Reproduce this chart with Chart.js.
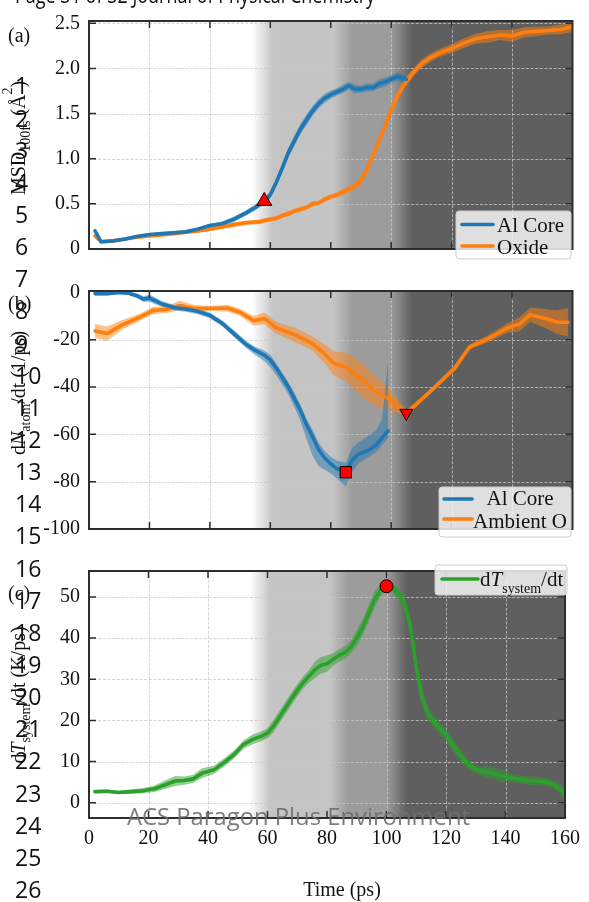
<!DOCTYPE html>
<html>
<head>
<meta charset="utf-8">
<script src="https://cdn.jsdelivr.net/npm/chart.js@4.4.0/dist/chart.umd.min.js"></script>
<style>
  html, body { margin: 0; padding: 0; background: #fff; }
  #page { position: relative; width: 589px; height: 902px; overflow: hidden; background: #fff; }
  #page canvas { position: absolute; left: 0; }
  #overlay { position: absolute; left: 0; top: 0; pointer-events: none; }
</style>
</head>
<body>
<div id="page">
  <canvas id="panelA" width="589" height="270" style="top:0px"></canvas>
  <canvas id="panelB" width="589" height="280" style="top:270px"></canvas>
  <canvas id="panelC" width="589" height="352" style="top:550px"></canvas>
  <svg id="overlay" width="589" height="902" xmlns="http://www.w3.org/2000/svg"></svg>
</div>
<script>
// ---------- axis ticks ----------
const timeTicks = [0, 20, 40, 60, 80, 100, 120, 140, 160];
const msdTicks  = [0, 0.5, 1, 1.5, 2, 2.5];
const rateTicks = [0, -20, -40, -60, -80, -100];
const heatTicks = [0, 10, 20, 30, 40, 50];

// ---------- (a) mean squared displacement ----------
const msdCoreTime   = [2,4,8,12,16,20,24,28,32,36,40,44,48,52,55,58,60,62,64,66,68,70,72,74,76,78,80,82,84,86,88,90,92,94,96,98,100,102,104,105];
const msdCore       = [0.20,0.08,0.09,0.11,0.14,0.16,0.17,0.18,0.19,0.22,0.26,0.28,0.33,0.40,0.46,0.53,0.60,0.74,0.90,1.07,1.20,1.33,1.43,1.53,1.61,1.67,1.71,1.74,1.77,1.81,1.77,1.77,1.79,1.79,1.83,1.85,1.88,1.91,1.89,1.88];
const msdCoreSpread = [0.02,0.01,0.01,0.015,0.015,0.015,0.015,0.02,0.02,0.02,0.02,0.025,0.03,0.03,0.035,0.035,0.04,0.045,0.05,0.055,0.06,0.055,0.06,0.055,0.05,0.05,0.045,0.04,0.045,0.04,0.045,0.04,0.045,0.04,0.05,0.05,0.045,0.045,0.04,0.04];

const msdOxideTime   = [2,4,8,12,16,20,24,28,32,36,40,44,48,52,56,60,62,64,66,68,70,72,74,76,78,80,82,84,86,88,90,92,94,96,98,100,102,104,106,108,110,113,116,120,124,128,132,136,140,144,148,152,156,160];
const msdOxide       = [0.145,0.08,0.09,0.11,0.13,0.145,0.155,0.17,0.185,0.20,0.22,0.245,0.27,0.29,0.30,0.33,0.34,0.37,0.39,0.42,0.44,0.46,0.50,0.51,0.55,0.58,0.60,0.63,0.66,0.70,0.76,0.88,1.04,1.20,1.37,1.54,1.69,1.81,1.90,1.98,2.05,2.12,2.17,2.22,2.28,2.33,2.35,2.37,2.36,2.40,2.41,2.42,2.43,2.46];
const msdOxideSpread = [0.02,0.015,0.015,0.015,0.015,0.015,0.015,0.02,0.02,0.02,0.02,0.02,0.025,0.025,0.025,0.025,0.03,0.025,0.03,0.025,0.03,0.025,0.03,0.025,0.03,0.025,0.03,0.035,0.035,0.035,0.045,0.045,0.055,0.055,0.055,0.055,0.055,0.05,0.05,0.045,0.045,0.045,0.045,0.05,0.055,0.055,0.065,0.055,0.065,0.055,0.055,0.045,0.055,0.055];

// ---------- (b) atom count rates ----------
const rateCoreTime = [2,6,10,13,16,18,20,22,24,28,32,36,40,44,48,52,55,58,60,62,64,66,68,70,72,74,76,78,80,82,85,87,89,92,95,97,99];
const rateCore     = [-0.5,-0.5,0,-0.3,-1.5,-2.8,-2.4,-3.6,-4.8,-6.4,-7,-8,-9.7,-13,-17.5,-22,-24.5,-26.5,-28.5,-32,-36,-40,-45,-50,-56,-61,-66.5,-70,-72.5,-74.5,-76,-71,-68.5,-67,-64.5,-61.5,-58.5];
const rateCoreUp   = [0.8,0.8,0.8,0.8,1,1.2,1.5,1.5,1.2,1.2,1.2,1.2,1.2,1.2,1.5,1.5,1.5,2,2,2,2,2,2.5,2.5,2.5,3,3,3,3,3.5,4,5,5,6,6,8,30];
const rateCoreDown = [0.8,0.8,0.8,0.8,1,1.2,1.5,1.5,1.2,1.2,1.2,1.2,1.2,1.2,1.5,1.5,2,2.5,3,3,3,3,3.5,4.5,6,8,7,5,4,4,6,5,4,3,3,3,3];

const rateOxyTime   = [2,6,11,17,21,26,30,35,40,46,50,54.5,58,62,68,74,78,81,85,88.5,92,95,99,102,105,110,115,121,126,132,138.5,142.5,146,151,155,158.5];
const rateOxy       = [-16.3,-17.4,-13.7,-10.4,-7.7,-7.1,-5.5,-6.8,-6.7,-6.7,-8.4,-12,-11,-15,-17.8,-21.6,-26,-30,-31.5,-35,-38.7,-42,-44.7,-48,-51,-45.3,-39.4,-32,-23,-19.6,-15,-13.4,-9.4,-11,-12.6,-12.6];
const rateOxySpread = [3,3,2,1.5,1.5,1.5,2,1.5,1,1.5,1.5,2,2.5,2.5,3,3,4,5,6,7,7,6,5,3,1.5,1,1,1,1,1.5,2,3,3,4,5,6];

// ---------- (c) system heating rate ----------
const heatTime   = [2,6,10,14,18,22,25,29,32,35,38,42,46,49,52,55,58,60,62,64,66,68,70,72,74,76,78,80,82,84,86,88,90,92,94,96,98,100,102,104,106,108,110,112,114,116,118,120,122,124,126,128,130,132,134,136,138,140,142,144,146,148,150,152,154,156,158,160];
const heatRate   = [2.7,2.8,2.5,2.7,2.9,3.4,4.2,5.3,5.4,5.8,7.2,8.0,10.1,11.9,14.2,15.4,16.2,16.9,18.6,20.8,23.0,25.2,27.3,29.2,30.8,32.3,33.4,33.8,34.8,35.8,36.5,37.8,40.0,42.6,46.0,49.4,51.6,52.6,52.2,50.8,48.5,43.0,33.0,25.5,21.5,19.6,18.0,16.6,14.3,12.3,10.5,9.0,8.2,7.6,7.4,7.2,6.6,6.4,6.0,5.8,5.5,5.4,5.3,5.2,5.0,4.5,3.5,2.0];
const heatSpread = [0.4,0.4,0.4,0.5,0.6,0.8,1,1.2,1,1,1.2,1,1,1,1,1.2,1.2,1.2,1.5,1.5,1.5,1.5,1.5,1.5,1.5,2,2,2,1.5,1.5,1.5,1.5,2,2,2,2,1.5,1,1,1.5,2,2.5,2.5,2,1.5,1.5,1.5,1.5,1.5,1.5,1.5,1,1,1,1.5,1.5,1.5,1.5,1,1,1,1,1,1,1,1,1,2];

// ---------- event times (ps) ----------
const coreMeltTime  = 58;   // onset of core mobility
const coreMinTime   = 85;   // fastest core consumption
const oxyMinTime    = 105;  // fastest oxygen uptake
const heatPeakTime  = 100;  // peak heating rate

// ---------- reaction-stage shading ----------
const stageTimes  = [0, 54, 61, 81, 87, 100, 107, 160];
const stageShades = ['#ffffff', '#ffffff', '#c4c4c4', '#c4c4c4', '#9c9c9c', '#9c9c9c', '#5f5f5f', '#5f5f5f'];

// ---------- style ----------
const SERIF = '"Liberation Serif","Times New Roman",Times,serif';
const INK = '#111111';
const SPINE = '#2e2e2e';
const BLUE = '#1f77b4', ORANGE = '#ff7f0e', GREEN = '#2ca02c';
const BLUE_BAND = 'rgba(31,119,180,0.5)', ORANGE_BAND = 'rgba(255,127,14,0.5)', GREEN_BAND = 'rgba(44,160,44,0.5)';

function valueAt(times, vals, t) { return vals[times.indexOf(t)]; }

function seriesDatasets(times, vals, up, down, color, band) {
  return {
    line: {
      data: times.map((t, i) => ({ x: t, y: vals[i] })),
      borderColor: color, borderWidth: 3.6, pointRadius: 0, fill: false,
      borderJoinStyle: 'round', borderCapStyle: 'round', tension: 0
    },
    hi: {
      data: times.map((t, i) => ({ x: t, y: vals[i] + up[i] })),
      borderWidth: 0, borderColor: 'rgba(0,0,0,0)', pointRadius: 0,
      fill: '+1', backgroundColor: band, tension: 0
    },
    lo: {
      data: times.map((t, i) => ({ x: t, y: vals[i] - down[i] })),
      borderWidth: 0, borderColor: 'rgba(0,0,0,0)', pointRadius: 0, fill: false, tension: 0
    }
  };
}

function markerDataset(t, v, style, radius, rotation) {
  return {
    data: [{ x: t, y: v }], showLine: false,
    pointStyle: style, pointRadius: radius, pointRotation: rotation || 0,
    pointBackgroundColor: '#ff0000', pointBorderColor: '#000000', pointBorderWidth: 1,
    backgroundColor: '#ff0000', borderColor: '#000000'
  };
}

// draws a run of text pieces (plain, italic, sub/superscript), optionally rotated
function richText(ctx, parts, x, y, align, rotated) {
  ctx.save();
  ctx.translate(x, y);
  if (rotated) ctx.rotate(-Math.PI / 2);
  ctx.textAlign = 'left';
  ctx.textBaseline = 'alphabetic';
  ctx.fillStyle = INK;
  let total = 0;
  parts.forEach(p => { ctx.font = p.font; p.w = ctx.measureText(p.text).width; total += p.w; });
  let cx = align === 'center' ? -total / 2 : 0;
  parts.forEach(p => { ctx.font = p.font; ctx.fillText(p.text, cx, p.dy || 0); cx += p.w; });
  ctx.restore();
}

function f(size, italic) { return (italic ? 'italic ' : '') + size + 'px ' + SERIF; }

function drawLegend(ctx, box, rows) {
  ctx.save();
  const r = 3;
  ctx.beginPath();
  ctx.moveTo(box.x + r, box.y);
  ctx.arcTo(box.x + box.w, box.y, box.x + box.w, box.y + box.h, r);
  ctx.arcTo(box.x + box.w, box.y + box.h, box.x, box.y + box.h, r);
  ctx.arcTo(box.x, box.y + box.h, box.x, box.y, r);
  ctx.arcTo(box.x, box.y, box.x + box.w, box.y, r);
  ctx.closePath();
  ctx.fillStyle = 'rgba(255,255,255,0.8)';
  ctx.fill();
  ctx.strokeStyle = '#cccccc';
  ctx.lineWidth = 1;
  ctx.stroke();
  rows.forEach(row => {
    ctx.beginPath();
    ctx.moveTo(row.x1, row.ly);
    ctx.lineTo(row.x2, row.ly);
    ctx.strokeStyle = row.color;
    ctx.lineWidth = 3.6;
    ctx.lineCap = 'round';
    ctx.stroke();
    richText(ctx, row.parts, row.tx, row.ty, row.align || 'left', false);
  });
  ctx.restore();
}

function decorPlugin(cfg) {
  return {
    id: 'panelDecor',
    beforeDatasetsDraw(chart) {
      const { ctx, chartArea: a, scales: { x, y } } = chart;
      ctx.save();
      const x0 = x.getPixelForValue(0), x1 = x.getPixelForValue(160);
      const g = ctx.createLinearGradient(x0, 0, x1, 0);
      stageTimes.forEach((t, i) => g.addColorStop(t / 160, stageShades[i]));
      ctx.fillStyle = g;
      ctx.fillRect(a.left, a.top, a.right - a.left, a.bottom - a.top);
      ctx.setLineDash([3, 1.6]);
      ctx.lineWidth = 0.9;
      ctx.strokeStyle = 'rgba(200,200,200,0.85)';
      timeTicks.forEach(v => {
        const px = Math.round(x.getPixelForValue(v)) + 0.5;
        if (px > a.left + 2 && px < a.right - 2) {
          ctx.beginPath(); ctx.moveTo(px, a.top); ctx.lineTo(px, a.bottom); ctx.stroke();
        }
      });
      cfg.yTicks.forEach(v => {
        const py = Math.round(y.getPixelForValue(v)) + 0.5;
        if (py > a.top + 2 && py < a.bottom - 2) {
          ctx.beginPath(); ctx.moveTo(a.left, py); ctx.lineTo(a.right, py); ctx.stroke();
        }
      });
      ctx.restore();
    },
    afterDraw(chart) {
      const { ctx, chartArea: a, scales: { x, y } } = chart;
      ctx.save();
      // inward tick marks on all four sides
      ctx.strokeStyle = SPINE;
      ctx.lineWidth = 1.5;
      const tl = 7;
      timeTicks.forEach(v => {
        const px = x.getPixelForValue(v);
        if (px > a.left + 2 && px < a.right - 2) {
          ctx.beginPath();
          ctx.moveTo(px, a.top); ctx.lineTo(px, a.top + tl);
          ctx.moveTo(px, a.bottom); ctx.lineTo(px, a.bottom - tl);
          ctx.stroke();
        }
      });
      cfg.yTicks.forEach(v => {
        const py = y.getPixelForValue(v);
        if (py > a.top + 2 && py < a.bottom - 2) {
          ctx.beginPath();
          ctx.moveTo(a.left, py); ctx.lineTo(a.left + tl, py);
          ctx.moveTo(a.right, py); ctx.lineTo(a.right - tl, py);
          ctx.stroke();
        }
      });
      // frame
      ctx.lineWidth = 2;
      ctx.strokeRect(a.left, a.top, a.right - a.left, a.bottom - a.top);
      ctx.restore();

      drawLegend(ctx, cfg.legend.box, cfg.legend.rows);

      // panel letter
      ctx.save();
      ctx.font = f(20);
      ctx.fillStyle = INK;
      ctx.textBaseline = 'alphabetic';
      ctx.fillText(cfg.letter.text, cfg.letter.x, cfg.letter.y);
      ctx.restore();

      // y-axis title
      richText(ctx, cfg.yTitle.parts, cfg.yTitle.x, cfg.yTitle.y, 'center', true);

      if (cfg.xTitle) {
        richText(ctx, [{ text: cfg.xTitle.text, font: f(20) }], cfg.xTitle.x, cfg.xTitle.y, 'center', false);
      }
    }
  };
}

function makePanel(canvasId, p) {
  const datasets = [...p.markers, ...p.series.map(s => s.line)];
  p.series.forEach(s => { datasets.push(s.hi); datasets.push(s.lo); });
  return new Chart(document.getElementById(canvasId), {
    type: 'line',
    data: { datasets },
    options: {
      responsive: false,
      animation: false,
      devicePixelRatio: 1,
      layout: { padding: { top: p.padTop, bottom: p.padBottom, left: 0, right: 16.5 } },
      plugins: { legend: { display: false }, tooltip: { enabled: false } },
      scales: {
        x: {
          type: 'linear', min: 0, max: 160, display: p.showX,
          afterBuildTicks: s => { s.ticks = timeTicks.map(v => ({ value: v })); },
          afterFit: s => { if (p.showX) s.height = 84; },
          grid: { display: false, drawTicks: false },
          border: { display: false },
          ticks: { font: { family: SERIF, size: 20 }, color: INK, padding: 9, maxRotation: 0, autoSkip: false,
                   callback: v => String(v) }
        },
        y: {
          type: 'linear', min: p.yMin, max: p.yMax, position: 'left',
          afterBuildTicks: s => { s.ticks = p.yTicks.map(v => ({ value: v })); },
          afterFit: s => { s.width = 89; },
          grid: { display: false, drawTicks: false },
          border: { display: false },
          ticks: { font: { family: SERIF, size: 20 }, color: INK, padding: 9, autoSkip: false,
                   callback: p.yFormat }
        }
      }
    },
    plugins: [decorPlugin(p)]
  });
}

// ---------- panel (a) ----------
makePanel('panelA', {
  padTop: 15, padBottom: 7.5, showX: false,
  yMin: 0, yMax: 2.525, yTicks: msdTicks,
  yFormat: v => (v === 0 ? '0' : Number(v).toFixed(1)),
  series: [
    seriesDatasets(msdCoreTime, msdCore, msdCoreSpread, msdCoreSpread, BLUE, BLUE_BAND),
    seriesDatasets(msdOxideTime, msdOxide, msdOxideSpread, msdOxideSpread, ORANGE, ORANGE_BAND)
  ],
  markers: [markerDataset(coreMeltTime, valueAt(msdCoreTime, msdCore, coreMeltTime), 'triangle', 8.7, 0)],
  legend: {
    box: { x: 456, y: 211, w: 115, h: 48 },
    rows: [
      { color: BLUE, x1: 462, x2: 493, ly: 224.5, tx: 497, ty: 232, parts: [{ text: 'Al Core', font: f(21) }] },
      { color: ORANGE, x1: 462, x2: 493, ly: 246, tx: 497, ty: 253.5, parts: [{ text: 'Oxide', font: f(21) }] }
    ]
  },
  letter: { text: '(a)', x: 8, y: 42 },
  yTitle: { x: 25, y: 138, parts: [
    { text: 'MSD', font: f(20) }, { text: '100fs', font: f(14), dy: 5 },
    { text: ' (Å', font: f(20) }, { text: '2', font: f(14), dy: -13 }, { text: ')', font: f(20) }
  ] }
});

// ---------- panel (b) ----------
makePanel('panelB', {
  padTop: 14, padBottom: 12, showX: false,
  yMin: -100, yMax: 0.6, yTicks: rateTicks,
  yFormat: v => String(v),
  series: [
    seriesDatasets(rateCoreTime, rateCore, rateCoreUp, rateCoreDown, BLUE, BLUE_BAND),
    seriesDatasets(rateOxyTime, rateOxy, rateOxySpread, rateOxySpread, ORANGE, ORANGE_BAND)
  ],
  markers: [
    markerDataset(coreMinTime, valueAt(rateCoreTime, rateCore, coreMinTime), 'rect', 8, 0),
    markerDataset(oxyMinTime, valueAt(rateOxyTime, rateOxy, oxyMinTime), 'triangle', 7.5, 180)
  ],
  legend: {
    box: { x: 439, y: 217, w: 132, h: 50 },
    rows: [
      { color: BLUE, x1: 444, x2: 472, ly: 229, tx: 520, ty: 235, align: 'center', parts: [{ text: 'Al Core', font: f(21) }] },
      { color: ORANGE, x1: 444, x2: 472, ly: 249, tx: 520, ty: 258, align: 'center', parts: [{ text: 'Ambient O', font: f(21) }] }
    ]
  },
  letter: { text: '(b)', x: 8, y: 40 },
  yTitle: { x: 25, y: 123, parts: [
    { text: 'd', font: f(20) }, { text: 'N', font: f(20, true) }, { text: 'atom', font: f(14), dy: 5 },
    { text: '/dt (1/ps)', font: f(20) }
  ] }
});

// ---------- panel (c) ----------
makePanel('panelC', {
  padTop: 14, padBottom: 0, showX: true,
  yMin: -3.7, yMax: 56.3, yTicks: heatTicks,
  yFormat: v => String(v),
  series: [
    seriesDatasets(heatTime, heatRate, heatSpread, heatSpread, GREEN, GREEN_BAND)
  ],
  markers: [markerDataset(heatPeakTime, valueAt(heatTime, heatRate, heatPeakTime), 'circle', 6.5, 0)],
  legend: {
    box: { x: 435, y: 15, w: 132, h: 30 },
    rows: [
      { color: GREEN, x1: 442, x2: 478, ly: 29, tx: 480, ty: 36, parts: [
        { text: 'd', font: f(21) }, { text: 'T', font: f(21, true) },
        { text: 'system', font: f(14), dy: 7 }, { text: '/dt', font: f(21) }
      ] }
    ]
  },
  letter: { text: '(c)', x: 8, y: 50 },
  yTitle: { x: 25, y: 145, parts: [
    { text: 'd', font: f(20) }, { text: 'T', font: f(20, true) }, { text: 'system', font: f(14), dy: 5 },
    { text: '/dt (K/ps)', font: f(20) }
  ] },
  xTitle: { text: 'Time (ps)', x: 342, y: 346 }
});

// ---------- manuscript page furniture ----------
const svgNS = 'http://www.w3.org/2000/svg';
const overlay = document.getElementById('overlay');
function svgText(str, x, y, attrs) {
  const t = document.createElementNS(svgNS, 'text');
  t.setAttribute('x', x);
  t.setAttribute('y', y);
  Object.keys(attrs).forEach(k => t.setAttribute(k, attrs[k]));
  t.textContent = str;
  overlay.appendChild(t);
}
svgText('Page 31 of 32 Journal of Physical Chemistry', 15, 3,
  { 'font-family': '"Open Sans", sans-serif', 'font-size': 23, fill: '#111', textLength: 360, lengthAdjust: 'spacingAndGlyphs' });
for (let n = 1; n <= 26; n++) {
  svgText(String(n), 15, 62.3 + 32.14 * n, { 'font-family': '"Open Sans", sans-serif', 'font-size': 23, fill: '#111' });
}
svgText('ACS Paragon Plus Environment', 127, 825,
  { 'font-family': '"Open Sans", sans-serif', 'font-size': 23, fill: 'rgba(110,110,110,0.9)', textLength: 343, lengthAdjust: 'spacingAndGlyphs' });
</script>
</body>
</html>
